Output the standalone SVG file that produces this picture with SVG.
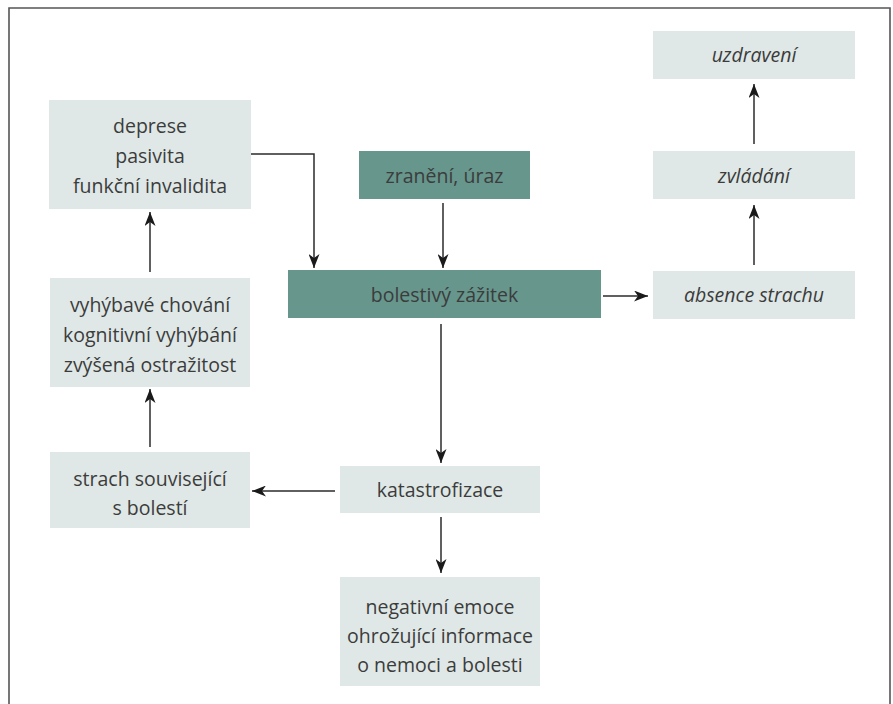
<svg xmlns="http://www.w3.org/2000/svg" width="893" height="704" viewBox="0 0 893 704">
<defs>
<style>
.light{fill:#dfe8e6}
.dark{fill:#66968c}
.t{font-family:"Open Sans","Noto Sans",sans-serif;font-size:19.5px;fill:#3c3c3c;text-anchor:middle}
.i{font-style:italic}
.c{fill:none;stroke:#2b2b2b;stroke-width:1.5}
.frame{fill:none;stroke:#555;stroke-width:1.6}
</style>
<marker id="arr" viewBox="0 0 14 11" refX="14" refY="5.5" markerWidth="14" markerHeight="11" markerUnits="userSpaceOnUse" orient="auto">
<path d="M0,0 L14,5.5 L0,11 L4,5.5 Z" fill="#1a1a1a"/>
</marker>
</defs>
<rect width="893" height="704" fill="#fff"/>
<path class="frame" d="M9,706 V8 H890 V706"/>

<g id="deprese">
<rect class="light" x="49" y="100" width="202" height="109"/>
<text class="t" x="150" y="133">deprese</text>
<text class="t" x="150" y="163">pasivita</text>
<text class="t" x="150" y="193">funkční invalidita</text>
</g>
<g id="zraneni">
<rect class="dark" x="359" y="151" width="171" height="48"/>
<text class="t" x="444.5" y="183">zranění, úraz</text>
</g>
<g id="bolestivy">
<rect class="dark" x="288" y="270" width="313" height="48"/>
<text class="t" x="444.5" y="302">bolestivý zážitek</text>
</g>
<g id="uzdraveni">
<rect class="light" x="653" y="31" width="202" height="48"/>
<text class="t i" x="754" y="62">uzdravení</text>
</g>
<g id="zvladani">
<rect class="light" x="653" y="151" width="202" height="48"/>
<text class="t i" x="754" y="183">zvládání</text>
</g>
<g id="absence">
<rect class="light" x="653" y="271" width="202" height="48"/>
<text class="t i" x="754" y="302">absence strachu</text>
</g>
<g id="vyhybave">
<rect class="light" x="50" y="278" width="200" height="109"/>
<text class="t" x="150" y="312">vyhýbavé chování</text>
<text class="t" x="150" y="342">kognitivní vyhýbání</text>
<text class="t" x="150" y="372">zvýšená ostražitost</text>
</g>
<g id="strach">
<rect class="light" x="50" y="452" width="200" height="76"/>
<text class="t" x="150" y="486">strach související</text>
<text class="t" x="150" y="515">s bolestí</text>
</g>
<g id="katastrofizace">
<rect class="light" x="340" y="466" width="200" height="47"/>
<text class="t" x="440" y="497">katastrofizace</text>
</g>
<g id="negativni">
<rect class="light" x="340" y="577" width="200" height="109"/>
<text class="t" x="440" y="614">negativní emoce</text>
<text class="t" x="440" y="643">ohrožující informace</text>
<text class="t" x="440" y="672">o nemoci a bolesti</text>
</g>

<g id="connectors">
<path class="c" d="M251,154 H314 V268" marker-end="url(#arr)"/>
<path class="c" d="M443,203 V268" marker-end="url(#arr)"/>
<path class="c" d="M603,296 H648" marker-end="url(#arr)"/>
<path class="c" d="M441,324 V463" marker-end="url(#arr)"/>
<path class="c" d="M441,517 V573" marker-end="url(#arr)"/>
<path class="c" d="M335,491 H252" marker-end="url(#arr)"/>
<path class="c" d="M150,447 V389" marker-end="url(#arr)"/>
<path class="c" d="M150,272 V212" marker-end="url(#arr)"/>
<path class="c" d="M754,265 V205" marker-end="url(#arr)"/>
<path class="c" d="M754,144 V84" marker-end="url(#arr)"/>
</g>
</svg>
